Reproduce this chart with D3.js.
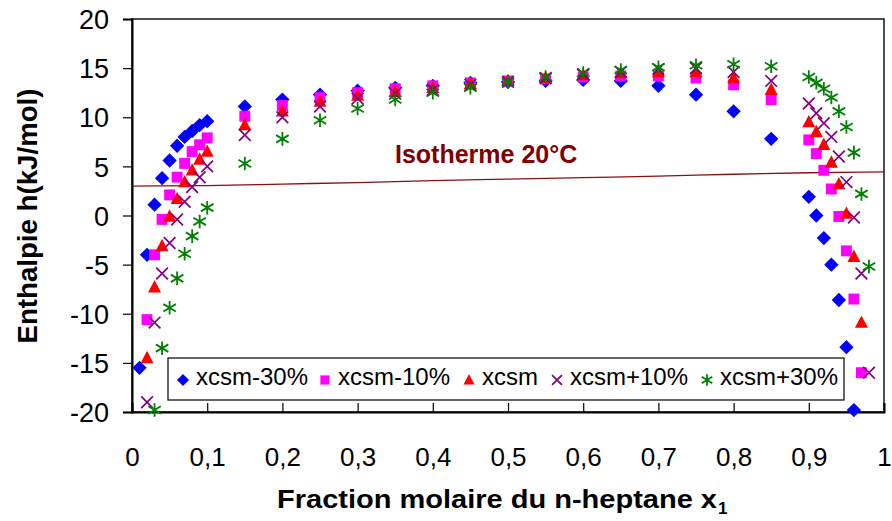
<!DOCTYPE html>
<html><head><meta charset="utf-8">
<script src="https://cdn.jsdelivr.net/npm/d3@7"></script>
<style>html,body{margin:0;padding:0;background:#fff;}svg{display:block;font-family:"Liberation Sans",Arial,sans-serif;}</style>
</head><body><svg id="c" width="892" height="521"></svg>
<script>
const xTickVals = [0,0.1,0.2,0.3,0.4,0.5,0.6,0.7,0.8,0.9,1];
const xTickLabels = ["0","0,1","0,2","0,3","0,4","0,5","0,6","0,7","0,8","0,9","1"];
const yTickVals = [-20,-15,-10,-5,0,5,10,15,20];

const seriesNames = ["xcsm-30%","xcsm-10%","xcsm","xcsm+10%","xcsm+30%"];
const blueX = [0.01,0.02,0.03,0.04,0.05,0.06,0.07,0.08,0.09,0.1,0.15,0.2,0.25,0.3,0.35,0.4,0.45,0.5,0.55,0.6,0.65,0.7,0.75,0.8,0.85,0.9,0.91,0.92,0.93,0.94,0.95,0.96];
const blueY = [-15.5,-4.0,1.1,3.8,5.6,7.1,8.0,8.6,9.2,9.6,11.1,11.8,12.3,12.7,13.0,13.2,13.5,13.6,13.7,13.8,13.7,13.2,12.3,10.6,7.8,1.9,0.0,-2.3,-5.0,-8.6,-13.4,-19.8];
const magentaX = [0.02,0.03,0.04,0.05,0.06,0.07,0.08,0.09,0.1,0.15,0.2,0.25,0.3,0.35,0.4,0.45,0.5,0.55,0.6,0.65,0.7,0.75,0.8,0.85,0.9,0.91,0.92,0.93,0.94,0.95,0.96,0.97];
const magentaY = [-10.6,-4.0,-0.4,2.1,3.9,5.3,6.5,7.2,7.9,10.1,11.2,12.0,12.5,12.9,13.2,13.5,13.7,13.9,14.1,14.2,14.2,14.0,13.3,11.8,7.7,6.3,4.6,2.7,-0.1,-3.6,-8.5,-16.0];
const redX = [0.02,0.03,0.04,0.05,0.06,0.07,0.08,0.09,0.1,0.15,0.2,0.25,0.3,0.35,0.4,0.45,0.5,0.55,0.6,0.65,0.7,0.75,0.8,0.85,0.9,0.91,0.92,0.93,0.94,0.95,0.96,0.97];
const redY = [-14.5,-7.3,-3.1,-0.1,1.7,3.4,4.6,5.7,6.5,9.2,10.6,11.6,12.2,12.6,13.0,13.4,13.7,14.0,14.3,14.5,14.6,14.6,14.0,12.8,9.5,8.5,7.2,5.4,3.2,0.2,-4.2,-10.9];
const purpleX = [0.02,0.03,0.04,0.05,0.06,0.07,0.08,0.09,0.1,0.15,0.2,0.25,0.3,0.35,0.4,0.45,0.5,0.55,0.6,0.65,0.7,0.75,0.8,0.85,0.9,0.91,0.92,0.93,0.94,0.95,0.96,0.97,0.98];
const purpleY = [-19.0,-10.9,-5.9,-2.8,-0.4,1.4,2.9,3.9,5.0,8.2,10.0,11.1,11.9,12.4,12.8,13.3,13.6,14.0,14.4,14.6,14.9,15.0,14.6,13.7,11.4,10.4,9.4,8.0,6.0,3.4,-0.2,-5.9,-16.0];
const greenX = [0.03,0.04,0.05,0.06,0.07,0.08,0.09,0.1,0.15,0.2,0.25,0.3,0.35,0.4,0.45,0.5,0.55,0.6,0.65,0.7,0.75,0.8,0.85,0.9,0.91,0.92,0.93,0.94,0.95,0.96,0.97,0.98];
const greenY = [-19.8,-13.5,-9.4,-6.4,-3.9,-2.1,-0.6,0.8,5.3,7.8,9.7,10.9,11.8,12.5,13.0,13.6,14.1,14.5,14.8,15.1,15.3,15.4,15.2,14.1,13.5,12.9,12.0,10.6,9.0,6.4,2.2,-5.2];
const isoX = [0,0.1,0.2,0.3,0.4,0.5,0.6,0.7,0.8,0.9,1];
const isoY = [3.0,3.05,3.2,3.35,3.55,3.7,3.85,4.0,4.2,4.35,4.45];

const svg = d3.select("#c");
const L=132, R=884, T=19, B=412;
const x = d3.scaleLinear().domain([0,1]).range([L,R]);
const y = d3.scaleLinear().domain([-20,20]).range([B,T]);

// plot frame
svg.append("rect").attr("x",L).attr("y",T).attr("width",R-L).attr("height",B-T)
  .attr("fill","#fff").attr("stroke","#222").attr("stroke-width",1.6);

// isotherm
svg.append("path").datum(isoX.map((v,i)=>[v,isoY[i]]))
  .attr("d", d3.line().x(d=>x(d[0])).y(d=>y(d[1])).curve(d3.curveMonotoneX))
  .attr("fill","none").attr("stroke","#8b1010").attr("stroke-width",1.3);
svg.append("text").attr("x",395).attr("y",163).attr("fill","#800000")
  .attr("font-weight","bold").attr("font-size",25).text("Isotherme 20°C");

// axes
const yAxis = d3.axisLeft(y).tickValues(yTickVals).tickSize(9).tickPadding(14).tickFormat(d=>String(d));
const gy = svg.append("g").attr("transform",`translate(${L},0)`).call(yAxis);
gy.select(".domain").attr("stroke","#000").attr("stroke-width",2);
gy.selectAll(".tick line").attr("stroke","#000").attr("stroke-width",1.2);
gy.selectAll(".tick text").attr("font-size",27).attr("fill","#000").attr("font-family","Liberation Sans, Arial, sans-serif").attr("dy","0.36em");

const xAxis = d3.axisBottom(x).tickValues(xTickVals).tickSize(-9).tickPadding(0).tickFormat((d,i)=>xTickLabels[i]);
const gx = svg.append("g").attr("transform",`translate(0,${B})`).call(xAxis);
gx.select(".domain").attr("stroke","#000").attr("stroke-width",2);
gx.selectAll(".tick line").attr("stroke","#000").attr("stroke-width",1.2);
gx.selectAll(".tick text").attr("font-size",26).attr("fill","#000").attr("font-family","Liberation Sans, Arial, sans-serif").attr("y",54).attr("dy",0);

// axis titles
svg.append("text").attr("transform","translate(37,216) rotate(-90)").attr("text-anchor","middle")
  .attr("font-weight","bold").attr("font-size",27).attr("textLength",255).attr("lengthAdjust","spacingAndGlyphs")
  .text("Enthalpie h(kJ/mol)");
svg.append("text").attr("x",277).attr("y",508).attr("font-weight","bold").attr("font-size",25)
  .attr("textLength",440).attr("lengthAdjust","spacingAndGlyphs").text("Fraction molaire du n-heptane x");
svg.append("text").attr("x",718).attr("y",514).attr("font-weight","bold").attr("font-size",17).text("1");

// marker symbols
function drawMarker(g, type, cx, cy, s){
  if(type===0){
    g.append("path").attr("d",`M${cx},${cy-s*0.55}L${cx+s*0.55},${cy}L${cx},${cy+s*0.55}L${cx-s*0.55},${cy}Z`).attr("fill","#0000ff");
  } else if(type===1){
    g.append("rect").attr("x",cx-s*0.42).attr("y",cy-s*0.42).attr("width",s*0.84).attr("height",s*0.84).attr("fill","#ff00ff");
  } else if(type===2){
    g.append("path").attr("d",`M${cx},${cy-s*0.55}L${cx+s*0.5},${cy+s*0.4}L${cx-s*0.5},${cy+s*0.4}Z`).attr("fill","#ff0000");
  } else if(type===3){
    const h=s*0.45;
    g.append("path").attr("d",`M${cx-h},${cy-h}L${cx+h},${cy+h}M${cx-h},${cy+h}L${cx+h},${cy-h}`).attr("stroke","#800080").attr("stroke-width",1.7).attr("fill","none");
  } else {
    const h=s*0.48, v=s*0.52;
    g.append("path").attr("d",`M${cx},${cy-v}L${cx},${cy+v}M${cx-h},${cy-h*0.6}L${cx+h},${cy+h*0.6}M${cx-h},${cy+h*0.6}L${cx+h},${cy-h*0.6}`).attr("stroke","#008000").attr("stroke-width",1.8).attr("fill","none");
  }
}
const allSeries = [[blueX,blueY],[magentaX,magentaY],[redX,redY],[purpleX,purpleY],[greenX,greenY]];
const gm = svg.append("g");
allSeries.forEach((sr,k)=>{
  const pts = sr[0].map((v,i)=>[v,sr[1][i]]);
  pts.forEach(p=>drawMarker(gm,k,x(p[0]),y(p[1]),13));
});

// legend
const lg = svg.append("g");
lg.append("rect").attr("x",168).attr("y",358).attr("width",676).attr("height",42).attr("fill","#fff").attr("stroke","#000").attr("stroke-width",1.2);
const legMarkX = [183,325,469,557,707];
seriesNames.forEach((n,k)=>{
  drawMarker(lg,k,legMarkX[k],380,11);
  lg.append("text").attr("x",legMarkX[k]+13).attr("y",385).attr("font-size",24).attr("fill","#000").text(n);
});
</script></body></html>
